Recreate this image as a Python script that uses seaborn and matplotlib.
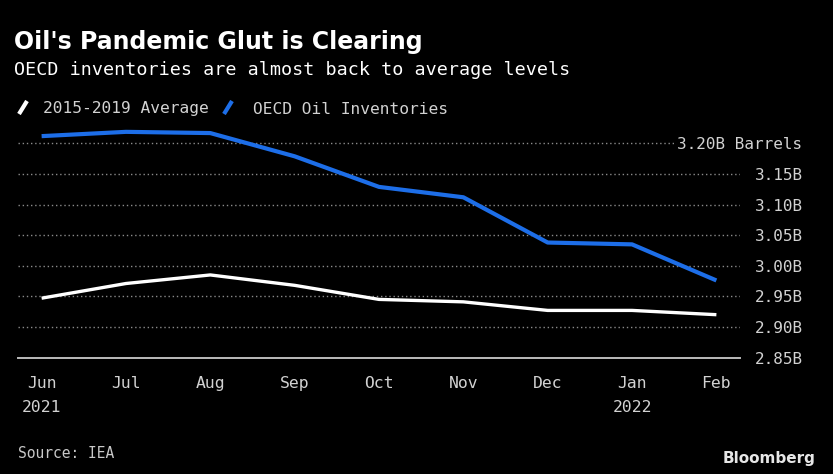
import matplotlib
matplotlib.use("Agg")
import matplotlib.pyplot as plt
import seaborn as sns
import pandas as pd
from matplotlib.lines import Line2D

# ---- data ----
months = ["Jun", "Jul", "Aug", "Sep", "Oct", "Nov", "Dec", "Jan", "Feb"]
x_tick_labels = ["Jun\n2021", "Jul", "Aug", "Sep", "Oct", "Nov", "Dec", "Jan\n2022", "Feb"]
oecd_inventories = [3.212, 3.219, 3.217, 3.179, 3.129, 3.112, 3.038, 3.035, 2.976]
avg_2015_2019 = [2.947, 2.971, 2.985, 2.968, 2.945, 2.941, 2.927, 2.927, 2.920]
y_ticks = [2.85, 2.90, 2.95, 3.00, 3.05, 3.10, 3.15, 3.20]
y_tick_labels = ["2.85B", "2.90B", "2.95B", "3.00B", "3.05B", "3.10B", "3.15B", "3.20B Barrels"]
series_names = ["2015-2019 Average", "OECD Oil Inventories"]

# ---- style ----
BG = "#000000"
BLUE = "#1d6ee8"
WHITE = "#ffffff"
GRAY_TXT = "#d2d2d2"
MONO = ["DejaVu Sans Mono", "DejaVu Sans"]

sns.set_style("dark", {"axes.facecolor": BG, "figure.facecolor": BG})
plt.rcParams["font.family"] = MONO

df = pd.DataFrame({
    "pos": list(range(len(months))) * 2,
    "value": avg_2015_2019 + oecd_inventories,
    "series": [series_names[0]] * len(months) + [series_names[1]] * len(months),
})

fig = plt.figure(figsize=(8.33, 4.74), dpi=100)
fig.patch.set_facecolor(BG)
W, H = 833, 474
ax_left, ax_right, ax_top, ax_bottom = 18, 740, 125, 357.5
ax = fig.add_axes([ax_left / W, 1 - ax_bottom / H, (ax_right - ax_left) / W, (ax_bottom - ax_top) / H])
ax.set_facecolor(BG)

sns.lineplot(data=df, x="pos", y="value", hue="series",
             palette={series_names[0]: WHITE, series_names[1]: BLUE},
             linewidth=2.6, ax=ax, legend=False, sort=False)
for ln, lw in zip(ax.lines, [2.4, 3.0]):
    ln.set_linewidth(lw)
    ln.set_solid_capstyle("butt")

ax.set_xlim(-0.28, 8.28)
ax.set_ylim(2.85, 3.2302)
ax.set_xlabel("")
ax.set_ylabel("")

# y axis on right, right-aligned labels
ax.yaxis.tick_right()
ax.set_yticks(y_ticks)
ax.set_yticklabels(y_tick_labels)
ax.tick_params(axis="y", length=0, pad=45, labelsize=11.5, labelcolor=GRAY_TXT)
for lab in ax.get_yticklabels():
    lab.set_horizontalalignment("right")
    lab.set_bbox(dict(facecolor=BG, edgecolor="none", pad=2.5))

ax.set_xticks(range(len(months)))
ax.set_xticklabels(x_tick_labels, linespacing=1.75)
ax.tick_params(axis="x", length=5, width=1.0, color="#bbbbbb", pad=8,
               labelsize=11.8, labelcolor=GRAY_TXT)
for lab in ax.get_xticklabels():
    lab.set_multialignment("center")

ax.grid(False)
ax.yaxis.grid(True, color="#8a8a8a", linestyle=(0, (1, 2)), linewidth=1.0)
ax.xaxis.grid(False)
for gl, t in zip(ax.yaxis.get_gridlines(), y_ticks):
    if t == 2.85:
        gl.set_visible(False)

for s in ["top", "left", "right"]:
    ax.spines[s].set_visible(False)
ax.spines["bottom"].set_color("#bbbbbb")
ax.spines["bottom"].set_linewidth(1.4)

# ---- titles ----
fig.text(14 / W, 1 - 48.5 / H, "Oil's Pandemic Glut is Clearing", color=WHITE,
         fontsize=17, fontweight="bold", family=["DejaVu Sans"], va="baseline")
fig.text(14 / W, 1 - 75 / H, "OECD inventories are almost back to average levels",
         color=WHITE, fontsize=13.2, va="baseline")

# ---- legend ----
fig.add_artist(Line2D([19 / W, 27 / W], [1 - 114 / H, 1 - 101 / H], color=WHITE,
                      linewidth=3, transform=fig.transFigure, solid_capstyle="butt"))
fig.text(43 / W, 1 - 113.5 / H, series_names[0], color=GRAY_TXT, fontsize=11.7, va="baseline")
fig.add_artist(Line2D([224 / W, 232 / W], [1 - 114 / H, 1 - 101 / H], color=BLUE,
                      linewidth=3, transform=fig.transFigure, solid_capstyle="butt"))
fig.text(253 / W, 1 - 113.5 / H, series_names[1], color=GRAY_TXT, fontsize=11.7, va="baseline")

# ---- footer ----
fig.text(18 / W, 1 - 458 / H, "Source: IEA", color="#c8c8c8", fontsize=10.5, va="baseline")
fig.text(815 / W, 1 - 463 / H, "Bloomberg", color="#e6e6e6", fontsize=11,
         fontweight="bold", family=["DejaVu Sans"], ha="right", va="baseline")

fig.savefig("out.png", dpi=100, facecolor=BG)
